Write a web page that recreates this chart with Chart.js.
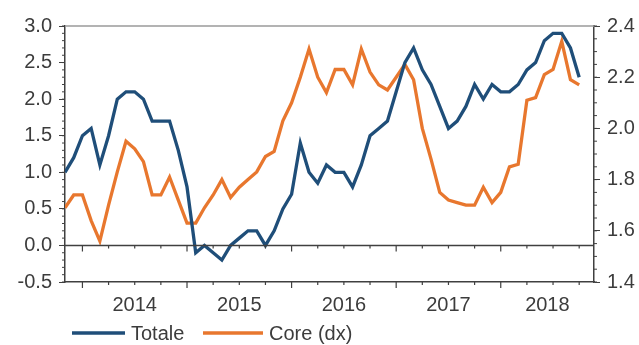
<!DOCTYPE html>
<html>
<head>
<meta charset="utf-8">
<script src="https://cdn.jsdelivr.net/npm/chart.js@4.4.1/dist/chart.umd.min.js"></script>
<style>
  html, body { margin: 0; padding: 0; background: #fff; }
  #wrap { width: 639px; height: 345px; }
</style>
</head>
<body>
<div id="wrap"><canvas id="inflChart"></canvas></div>
<script>
// mesi (fine mese), ott 2013 - set 2018
var months = [
  '2013-10', '2013-11', '2013-12',
  '2014-01', '2014-02', '2014-03', '2014-04', '2014-05', '2014-06', '2014-07', '2014-08', '2014-09', '2014-10', '2014-11', '2014-12',
  '2015-01', '2015-02', '2015-03', '2015-04', '2015-05', '2015-06', '2015-07', '2015-08', '2015-09', '2015-10', '2015-11', '2015-12',
  '2016-01', '2016-02', '2016-03', '2016-04', '2016-05', '2016-06', '2016-07', '2016-08', '2016-09', '2016-10', '2016-11', '2016-12',
  '2017-01', '2017-02', '2017-03', '2017-04', '2017-05', '2017-06', '2017-07', '2017-08', '2017-09', '2017-10', '2017-11', '2017-12',
  '2018-01', '2018-02', '2018-03', '2018-04', '2018-05', '2018-06', '2018-07', '2018-08', '2018-09'
];

// inflazione totale, asse sx
var totale = [
  1.0, 1.2, 1.5,
  1.6, 1.1, 1.5, 2.0, 2.1, 2.1, 2.0, 1.7, 1.7, 1.7, 1.3, 0.8,
  -0.1, 0.0, -0.1, -0.2, 0.0, 0.1, 0.2, 0.2, 0.0, 0.2, 0.5, 0.7,
  1.4, 1.0, 0.85, 1.1, 1.0, 1.0, 0.8, 1.1, 1.5, 1.6, 1.7, 2.1,
  2.5, 2.7, 2.4, 2.2, 1.9, 1.6, 1.7, 1.9, 2.2, 2.0, 2.2, 2.1,
  2.1, 2.2, 2.4, 2.5, 2.8, 2.9, 2.9, 2.7, 2.3
];

// inflazione core, asse dx
var core = [
  1.69, 1.74, 1.74,
  1.64, 1.56, 1.70, 1.83, 1.95, 1.92, 1.87, 1.74, 1.74, 1.81, 1.72, 1.63,
  1.63, 1.69, 1.74, 1.80, 1.73, 1.77, 1.80, 1.83, 1.89, 1.91, 2.03, 2.10,
  2.20, 2.31, 2.20, 2.14, 2.23, 2.23, 2.17, 2.31, 2.22, 2.17, 2.15, 2.20,
  2.25, 2.19, 2.00, 1.88, 1.75, 1.72, 1.71, 1.70, 1.70, 1.77, 1.71, 1.75,
  1.85, 1.86, 2.11, 2.12, 2.21, 2.23, 2.34, 2.19, 2.17
];

var yearLabels = ['2014', '2015', '2016', '2017', '2018'];
var yearStarts = ['2013-12', '2014-12', '2015-12', '2016-12', '2017-12'];

var blue = '#1f4e79';
var orange = '#e8772e';
var axisColor = '#404040';
var textColor = '#3c3c3c';
var font = { family: "'Liberation Sans', Arial, sans-serif", size: 20 };

var xMax = months.length + 0.7;
var yearIdx = yearStarts.map(function (m) { return months.indexOf(m); });
var labelPos = yearIdx.map(function (s, k) {
  var end = k + 1 < yearIdx.length ? yearIdx[k + 1] : xMax;
  return (s + end) / 2;
});

function toPoints(arr) {
  return arr.map(function (v, i) { return { x: i, y: v }; });
}

var decorPlugin = {
  id: 'decor',
  afterDraw: function (chart) {
    var ctx = chart.ctx;
    var a = chart.chartArea;
    var xs = chart.scales.x, yl = chart.scales.y, yr = chart.scales.y1;
    var y0 = yl.getPixelForValue(0);
    ctx.save();
    // bordo superiore
    ctx.strokeStyle = '#9a9a9a';
    ctx.lineWidth = 1.5;
    ctx.beginPath();
    ctx.moveTo(a.left, a.top);
    ctx.lineTo(a.right, a.top);
    ctx.stroke();
    // linea dello zero
    ctx.strokeStyle = axisColor;
    ctx.beginPath();
    ctx.moveTo(a.left, y0);
    ctx.lineTo(a.right, y0);
    ctx.stroke();
    // tacche trimestrali
    ctx.lineWidth = 1.2;
    for (var q = yearIdx[0]; q < xMax; q += 3) {
      var px = xs.getPixelForValue(q);
      var len = (q - yearIdx[0]) % 12 === 0 ? 6 : 3;
      ctx.beginPath();
      ctx.moveTo(px, y0); ctx.lineTo(px, y0 + len);
      ctx.moveTo(px, a.bottom); ctx.lineTo(px, a.bottom + len);
      ctx.stroke();
    }
    // tacche minori assi y
    ctx.lineWidth = 1;
    for (var v = -5; v <= 30; v++) {
      var py = yl.getPixelForValue(v / 10);
      ctx.beginPath();
      ctx.moveTo(a.left - 3, py); ctx.lineTo(a.left, py);
      ctx.stroke();
    }
    for (var w = 28; w <= 48; w++) {
      var py2 = yr.getPixelForValue(w / 20);
      ctx.beginPath();
      ctx.moveTo(a.right, py2); ctx.lineTo(a.right + 3, py2);
      ctx.stroke();
    }
    // legenda
    var ly = 333;
    var items = [
      { text: chart.data.datasets[0].label, color: blue, x0: 72, x1: 125 },
      { text: chart.data.datasets[1].label, color: orange, x0: 203, x1: 263 }
    ];
    ctx.font = font.size + 'px ' + font.family;
    ctx.textBaseline = 'middle';
    ctx.textAlign = 'left';
    items.forEach(function (it) {
      ctx.strokeStyle = it.color;
      ctx.lineWidth = 3.5;
      ctx.beginPath();
      ctx.moveTo(it.x0, ly); ctx.lineTo(it.x1, ly);
      ctx.stroke();
      ctx.fillStyle = textColor;
      ctx.fillText(it.text, it.x1 + 6, ly + 1);
    });
    ctx.restore();
  }
};

var ctx = document.getElementById('inflChart').getContext('2d');
var chart = new Chart(ctx, {
  type: 'line',
  data: {
    datasets: [
      { label: 'Totale', data: toPoints(totale), yAxisID: 'y', borderColor: blue, borderWidth: 3.3, pointRadius: 0, tension: 0 },
      { label: 'Core (dx)', data: toPoints(core), yAxisID: 'y1', borderColor: orange, borderWidth: 3.3, pointRadius: 0, tension: 0 }
    ]
  },
  options: {
    responsive: true,
    maintainAspectRatio: false,
    animation: false,
    layout: { padding: { top: 26, left: 0, right: 0, bottom: 0 } },
    plugins: { legend: { display: false }, tooltip: { enabled: false } },
    scales: {
      x: {
        type: 'linear',
        min: 0,
        max: xMax,
        grid: { display: false, drawTicks: false },
        border: { display: true, color: axisColor, width: 1.5 },
        afterBuildTicks: function (scale) {
          scale.ticks = labelPos.map(function (p) { return { value: p }; });
        },
        afterFit: function (scale) { scale.height = 63; },
        ticks: {
          autoSkip: false,
          maxRotation: 0,
          padding: 11,
          color: textColor,
          font: font,
          callback: function (v, i) { return yearLabels[i]; }
        }
      },
      y: {
        position: 'left',
        min: -0.5,
        max: 3.0,
        grid: { drawOnChartArea: false, tickLength: 6, tickColor: axisColor },
        border: { display: true, color: axisColor, width: 1.5 },
        afterFit: function (scale) { scale.width = 65; },
        ticks: {
          stepSize: 0.5,
          padding: 7,
          color: textColor,
          font: font,
          callback: function (v) { return v.toFixed(1); }
        }
      },
      y1: {
        position: 'right',
        min: 1.4,
        max: 2.4,
        grid: { drawOnChartArea: false, tickLength: 6, tickColor: axisColor },
        border: { display: true, color: axisColor, width: 1.5 },
        afterFit: function (scale) { scale.width = 45; },
        ticks: {
          stepSize: 0.2,
          padding: 7,
          color: textColor,
          font: font,
          callback: function (v) { return v.toFixed(1); }
        }
      }
    }
  },
  plugins: [decorPlugin]
});
</script>
</body>
</html>
